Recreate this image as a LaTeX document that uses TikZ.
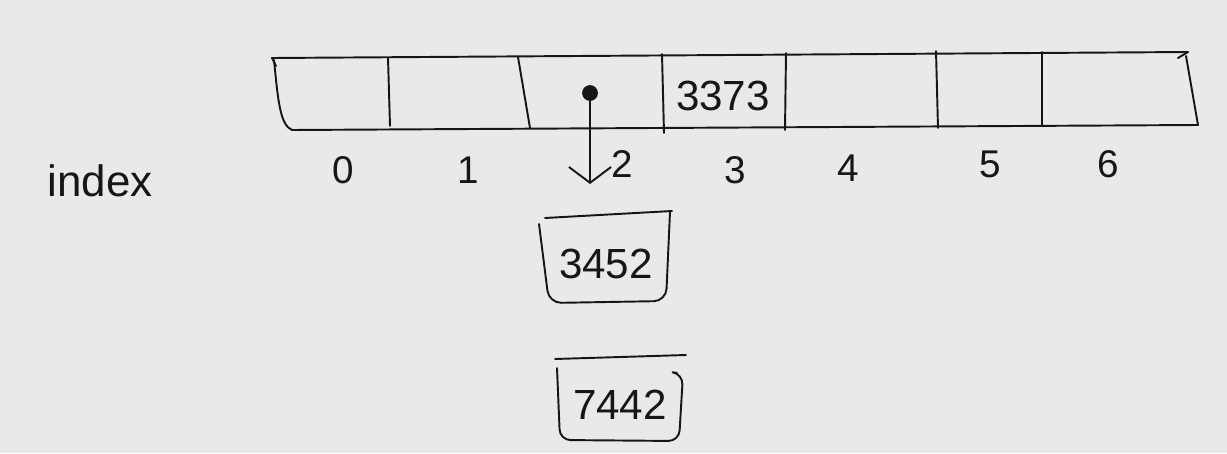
\documentclass[tikz,border=0pt]{standalone}
\usepackage{fontspec}
\setmainfont{Liberation Sans}
\usetikzlibrary{arrows.meta}
\definecolor{paper}{HTML}{E9E9E9}
\definecolor{ink}{HTML}{161616}
\begin{document}
\begin{tikzpicture}[x=0.02cm,y=-0.02cm,
  inkline/.style={draw=ink, line width=1.1pt, line cap=round, line join=round},
  lbl/.style={font=\fontsize{22}{22}\selectfont, text=ink, inner sep=0pt},
  val/.style={font=\fontsize{24}{24}\selectfont, text=ink, inner sep=0pt},
  cell/.style={inner sep=0pt, minimum size=0pt}]
\fill[paper] (0,0) rectangle (1227,453);
\useasboundingbox (0,0) rectangle (1227,453);

% array outline
\draw[inkline] (276,66) -- (272,58) -- (1188,52) -- (1178,58);
\draw[inkline] (274,60) .. controls (278,100) and (280,125) .. (292,130) -- (1198,125) -- (1186,56);
% dividers
\draw[inkline] (388,58) -- (390,126);
\draw[inkline] (518,57) -- (530,128);
\draw[inkline] (662,54) -- (664,133);
\draw[inkline] (786,53) -- (785,130);
\draw[inkline] (936,51) -- (938,128);
\draw[inkline] (1042,52) -- (1042,125);

% cells
\node[cell] (c0) at (330,93) {};
\node[cell] (c1) at (455,93) {};
\node[cell] (c2) at (595,93) {};
\node[val] (c3) at (723,96) {3373};
\node[cell] (c4) at (860,93) {};
\node[cell] (c5) at (990,93) {};
\node[cell] (c6) at (1118,93) {};

% index labels
\node[val, font=\fontsize{25}{25}\selectfont] (idx) at (100,181) {index};
\node[lbl] (i0) at (343,170) {0};
\node[lbl] (i1) at (468,170) {1};
\node[lbl] (i2) at (622,164) {2};
\node[lbl] (i3) at (735,170) {3};
\node[lbl] (i4) at (848,168) {4};
\node[lbl] (i5) at (990,164) {5};
\node[lbl] (i6) at (1108,164) {6};

% pointer
\node[circle, fill=ink, inner sep=0pt, minimum size=9pt] (dot) at (590,93) {};
\coordinate (tip) at (590,184);
\draw[inkline, -{Straight Barb[length=9pt, width=24pt, line width=1.1pt]}] (dot) -- (tip);

% bucket 1
\node[val] (b1) at (606,264) {3452};
\draw[inkline] (545,218) -- (672,211);
\draw[inkline, rounded corners=7pt] (539,224) -- (549,303) -- (666,301) -- (670,212);

% bucket 2
\node[val] (b2) at (620,405) {7442};
\draw[inkline] (555,359) -- (686,355);
\draw[inkline, rounded corners=6pt] (557,368) -- (560,440) -- (679,441) -- (683,374) -- (677,373);
\end{tikzpicture}
\end{document}
